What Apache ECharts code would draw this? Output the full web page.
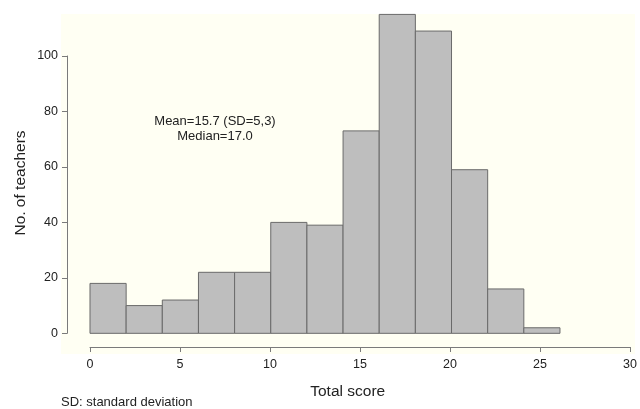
<!DOCTYPE html>
<html>
<head>
<meta charset="utf-8">
<script src="https://cdn.jsdelivr.net/npm/echarts@6/dist/echarts.min.js"></script>
<style>html,body{margin:0;padding:0;background:#fff;}#c{width:640px;height:409px;}</style>
</head>
<body>
<div id="c"></div>
<script>
const binStarts = [0, 2, 4, 6, 8, 10, 12, 14, 16, 18, 20, 22, 24];
const binWidth = 2;
const counts = [18, 10, 12, 22, 22, 40, 39, 73, 115, 109, 59, 16, 2];
const xTicks = [0, 5, 10, 15, 20, 25, 30];
const yTicks = [0, 20, 40, 60, 80, 100];
const annotation = ['Mean=15.7 (SD=5,3)', 'Median=17.0'];
const xTitle = 'Total score';
const yTitle = 'No. of teachers';
const note = 'SD: standard deviation';

const data = binStarts.map((s, i) => [s, s + binWidth, counts[i]]);
const font = 'Liberation Sans, Arial, sans-serif';
const axisColor = '#7a7a7a';
const txt = '#222';

const chart = echarts.init(document.getElementById('c'));
chart.setOption({
  animation: false,
  grid: [
    {left: 61, right: 5, top: 14, bottom: 55, show: true, backgroundColor: '#fffff3', borderWidth: 0},
    {left: 67, width: 10, top: 56, height: 277.3, show: false},
    {left: 90, width: 542.3, top: 346, height: 1, show: false}
  ],
  xAxis: [
    {gridIndex: 0, type: 'value', min: -1.604, max: 30.15, show: false},
    {gridIndex: 1, type: 'value', min: 0, max: 1, show: false},
    {gridIndex: 2, type: 'value', min: xTicks[0], max: xTicks[xTicks.length - 1], interval: 5, position: 'bottom',
      axisLine: {show: true, lineStyle: {color: axisColor, width: 1}},
      axisTick: {show: true, length: 5, lineStyle: {color: axisColor}},
      axisLabel: {margin: 11, color: txt, fontSize: 12.5, fontFamily: font},
      splitLine: {show: false}}
  ],
  yAxis: [
    {gridIndex: 0, type: 'value', min: -7.46, max: 115.15, show: false},
    {gridIndex: 1, type: 'value', min: yTicks[0], max: yTicks[yTicks.length - 1], interval: 20, position: 'left',
      axisLine: {show: true, lineStyle: {color: axisColor, width: 1}},
      axisTick: {show: true, length: 5, lineStyle: {color: axisColor}},
      axisLabel: {margin: 9, color: txt, fontSize: 12.5, fontFamily: font},
      splitLine: {show: false}},
    {gridIndex: 2, type: 'value', min: 0, max: 1, show: false}
  ],
  series: [{
    type: 'custom',
    xAxisIndex: 0, yAxisIndex: 0,
    data: data,
    renderItem: function (params, api) {
      const p0 = api.coord([api.value(0), api.value(2)]);
      const p1 = api.coord([api.value(1), 0]);
      return {
        type: 'rect',
        shape: {x: p0[0], y: p0[1], width: p1[0] - p0[0], height: p1[1] - p0[1]},
        style: {fill: '#bebebe', stroke: '#6a6a6a', lineWidth: 1}
      };
    }
  }],
  graphic: [
    {type: 'text', x: 215, y: 121, style: {text: annotation[0], fill: txt, font: '13px ' + font, textAlign: 'center', textVerticalAlign: 'middle'}},
    {type: 'text', x: 215, y: 136, style: {text: annotation[1], fill: txt, font: '13px ' + font, textAlign: 'center', textVerticalAlign: 'middle'}},
    {type: 'text', x: 347.7, y: 392, style: {text: xTitle, fill: txt, font: '15.5px ' + font, textAlign: 'center', textVerticalAlign: 'middle'}},
    {type: 'text', x: 21, y: 183, rotation: Math.PI / 2, style: {text: yTitle, fill: txt, font: '15.5px ' + font, textAlign: 'center', textVerticalAlign: 'middle'}},
    {type: 'text', x: 61, y: 402, style: {text: note, fill: txt, font: '13px ' + font, textAlign: 'left', textVerticalAlign: 'middle'}}
  ]
});
</script>
</body>
</html>
